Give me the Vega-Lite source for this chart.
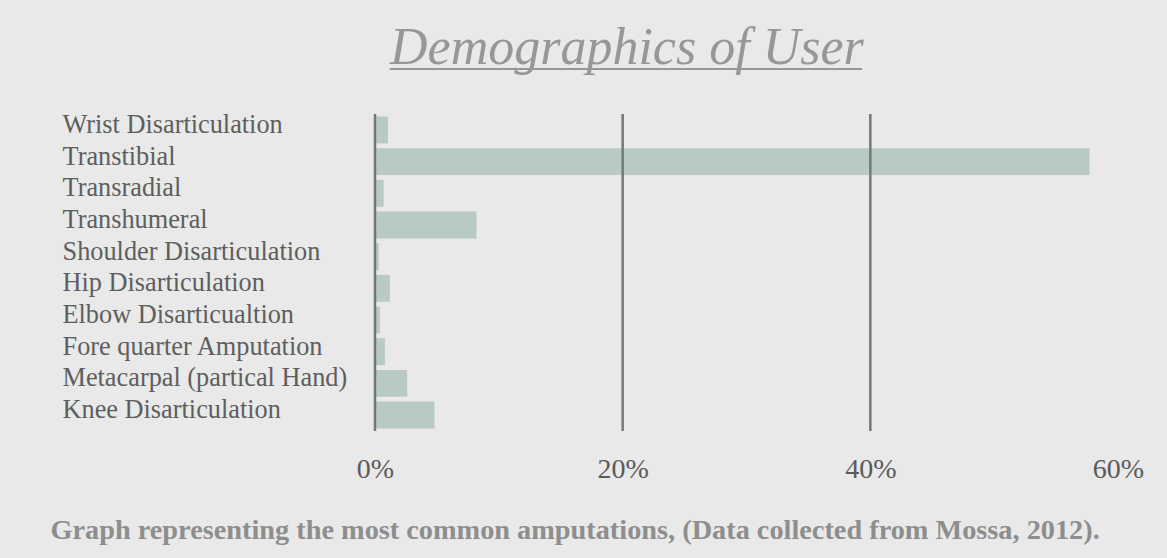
{
  "$schema": "https://vega.github.io/schema/vega-lite/v6.json",
  "width": 743,
  "height": 317,
  "autosize": "none",
  "padding": {"left": 375, "top": 114, "right": 49, "bottom": 127},
  "background": "#e8e9e8",
  "config": {"view": {"stroke": null}},
  "title": {
    "text": "Demographics of User",
    "subtitle": "________________________",
    "anchor": "start",
    "frame": "group",
    "dx": 15,
    "font": "Liberation Serif",
    "fontStyle": "italic",
    "fontWeight": "normal",
    "fontSize": 52,
    "color": "#979797",
    "subtitleFont": "Liberation Serif",
    "subtitleFontSize": 39.3,
    "subtitleColor": "#979797",
    "subtitlePadding": -41,
    "offset": 36
  },
  "datasets": {
    "bars": [
      {"type": "Wrist Disarticulation", "pct": 1.05},
      {"type": "Transtibial", "pct": 57.7},
      {"type": "Transradial", "pct": 0.7},
      {"type": "Transhumeral", "pct": 8.2},
      {"type": "Shoulder Disarticulation", "pct": 0.3},
      {"type": "Hip Disarticulation", "pct": 1.2},
      {"type": "Elbow Disarticualtion", "pct": 0.4},
      {"type": "Fore quarter Amputation", "pct": 0.8},
      {"type": "Metacarpal (partical Hand)", "pct": 2.6},
      {"type": "Knee Disarticulation", "pct": 4.8}
    ],
    "grid": [{"v": 0}, {"v": 20}, {"v": 40}]
  },
  "layer": [
    {
      "data": {"name": "bars"},
      "mark": {"type": "bar", "color": "#b9cac6"},
      "encoding": {
        "y": {
          "field": "type",
          "type": "nominal",
          "sort": null,
          "scale": {"paddingInner": 0.15, "paddingOuter": 0.08},
          "axis": {
            "title": null,
            "domain": false,
            "ticks": false,
            "labelAlign": "left",
            "labelPadding": 313,
            "labelOffset": -5,
            "labelFont": "Liberation Serif",
            "labelFontSize": 26.3,
            "labelColor": "#5e5e5e",
            "labelLimit": 0
          }
        },
        "x": {
          "field": "pct",
          "type": "quantitative",
          "scale": {"domain": [0, 60], "nice": false},
          "axis": {
            "values": [0, 20, 40, 60],
            "labelExpr": "datum.value + '%'",
            "grid": false,
            "domain": false,
            "ticks": false,
            "labelPadding": 24,
            "labelFont": "Liberation Serif",
            "labelFontSize": 28,
            "labelColor": "#5a5a5a",
            "labelFlush": false,
            "title": "Graph representing the most common amputations, (Data collected from Mossa, 2012).",
            "titleFont": "Liberation Serif",
            "titleFontSize": 28.3,
            "titleFontWeight": "bold",
            "titleColor": "#8e8e8e",
            "titleAlign": "left",
            "titleAnchor": "start",
            "titleBaseline": "alphabetic",
            "titleX": -325,
            "titleY": 107
          }
        }
      }
    },
    {
      "data": {"name": "grid"},
      "mark": {"type": "rule", "color": "#6f7b77", "strokeWidth": 2.5},
      "encoding": {"x": {"field": "v", "type": "quantitative"}}
    }
  ]
}
